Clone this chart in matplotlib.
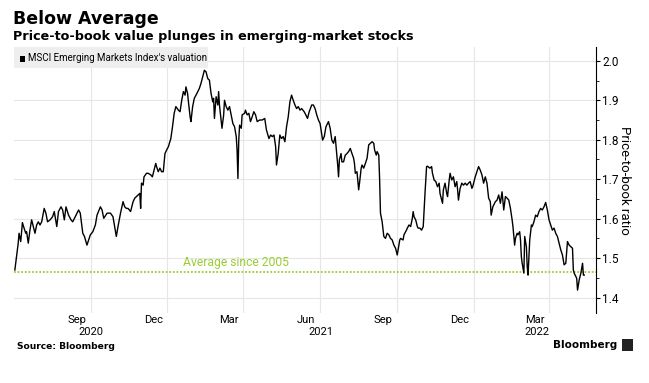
import numpy as np
import matplotlib
matplotlib.use("Agg")
import matplotlib.pyplot as plt
from matplotlib.patches import Rectangle
from matplotlib.ticker import MultipleLocator

# MSCI EM price-to-book (days counted from 2020-06-01)
start = np.datetime64("2020-06-01")
days = [
    1, 5, 6, 8, 10, 12, 14, 15, 17, 19, 21, 23, 25, 27, 29, 31, 33, 36, 38, 40,
    43, 46, 48, 49, 51, 53, 56, 58, 60, 62, 65, 68, 70, 73, 77, 79, 82, 84, 87, 89,
    91, 94, 97, 99, 103, 105, 107, 111, 115, 118, 120, 122, 124, 127, 130, 132, 134, 136, 139, 142,
    144, 146, 148, 150, 151, 152, 154, 155, 158, 160, 163, 165, 167, 169, 170, 172, 174, 176, 178, 180,
    182, 184, 187, 189, 191, 193, 196, 198, 200, 202, 204, 205, 207, 208, 210, 211, 213, 215, 218, 221,
    223, 225, 227, 229, 231, 233, 235, 237, 238, 239, 241, 243, 244, 245, 247, 248, 250, 251, 253, 255,
    257, 259, 261, 263, 265, 266, 267, 268, 269, 271, 272, 275, 276, 278, 280, 282, 284, 286, 288, 290,
    293, 296, 299, 301, 304, 306, 308, 310, 312, 313, 315, 317, 319, 321, 323, 325, 327, 329, 331, 333,
    335, 337, 339, 341, 343, 346, 348, 350, 352, 355, 357, 359, 361, 363, 365, 368, 370, 372, 375, 377,
    379, 381, 383, 385, 386, 387, 388, 390, 391, 393, 395, 397, 399, 401, 403, 405, 406, 407, 409, 411,
    412, 414, 415, 417, 419, 421, 423, 425, 427, 429, 430, 432, 433, 435, 436, 437, 439, 441, 443, 445,
    447, 449, 451, 453, 455, 457, 459, 460, 461, 464, 465, 468, 469, 471, 473, 475, 476, 477, 479, 481,
    482, 484, 486, 488, 490, 492, 493, 496, 498, 499, 501, 503, 505, 507, 508, 511, 512, 514, 516, 517,
    519, 520, 522, 524, 526, 528, 529, 530, 532, 534, 536, 538, 540, 542, 544, 546, 547, 549, 550, 552,
    554, 556, 558, 560, 562, 564, 566, 568, 569, 571, 573, 574, 576, 578, 580, 582, 584, 586, 588, 590,
    592, 594, 595, 597, 598, 600, 601, 603, 604, 605, 606, 608, 609, 611, 612, 613, 615, 617, 618, 620,
    622, 624, 626, 628, 630, 632, 634, 636, 638, 640, 642, 644, 646, 648, 650, 652, 654, 656, 658, 660,
    662, 664, 666, 667, 668, 671, 672, 674, 676, 678, 679, 680,
]
pb = [
    1.470, 1.538, 1.563, 1.542, 1.590, 1.576, 1.563, 1.567, 1.538, 1.571, 1.597, 1.580, 1.563, 1.584, 1.592, 1.584, 1.592, 1.626, 1.614, 1.592,
    1.597, 1.605, 1.618, 1.605, 1.580, 1.618, 1.630, 1.622, 1.597, 1.630, 1.609, 1.597, 1.592, 1.605, 1.622, 1.614, 1.563, 1.555, 1.533, 1.546,
    1.559, 1.567, 1.584, 1.609, 1.630, 1.622, 1.601, 1.614, 1.614, 1.605, 1.580, 1.555, 1.580, 1.614, 1.643, 1.630, 1.626, 1.626, 1.618, 1.643,
    1.652, 1.656, 1.660, 1.664, 1.626, 1.690, 1.685, 1.706, 1.715, 1.715, 1.711, 1.706, 1.723, 1.740, 1.732, 1.719, 1.728, 1.719, 1.719, 1.765,
    1.774, 1.782, 1.803, 1.833, 1.867, 1.884, 1.875, 1.871, 1.900, 1.922, 1.913, 1.934, 1.917, 1.896, 1.858, 1.846, 1.884, 1.905, 1.917, 1.930,
    1.943, 1.960, 1.976, 1.972, 1.955, 1.951, 1.917, 1.896, 1.905, 1.854, 1.909, 1.888, 1.922, 1.888, 1.850, 1.829, 1.863, 1.900, 1.884, 1.875,
    1.884, 1.863, 1.841, 1.833, 1.808, 1.774, 1.702, 1.799, 1.837, 1.829, 1.863, 1.867, 1.875, 1.863, 1.867, 1.846, 1.858, 1.871, 1.863, 1.846,
    1.850, 1.850, 1.854, 1.825, 1.803, 1.812, 1.808, 1.812, 1.782, 1.736, 1.765, 1.812, 1.803, 1.808, 1.795, 1.833, 1.858, 1.896, 1.913, 1.900,
    1.888, 1.879, 1.884, 1.875, 1.879, 1.871, 1.863, 1.854, 1.871, 1.888, 1.888, 1.879, 1.863, 1.850, 1.841, 1.799, 1.808, 1.833, 1.846, 1.829,
    1.799, 1.791, 1.808, 1.761, 1.736, 1.706, 1.749, 1.765, 1.744, 1.744, 1.761, 1.765, 1.770, 1.778, 1.765, 1.753, 1.740, 1.715, 1.719, 1.673,
    1.690, 1.728, 1.736, 1.728, 1.740, 1.753, 1.787, 1.791, 1.795, 1.791, 1.774, 1.761, 1.770, 1.761, 1.698, 1.614, 1.592, 1.555, 1.550, 1.563,
    1.559, 1.550, 1.546, 1.533, 1.525, 1.508, 1.533, 1.546, 1.550, 1.546, 1.559, 1.571, 1.576, 1.584, 1.580, 1.601, 1.618, 1.605, 1.597, 1.580,
    1.576, 1.576, 1.571, 1.580, 1.660, 1.732, 1.733, 1.728, 1.732, 1.715, 1.698, 1.694, 1.681, 1.690, 1.664, 1.639, 1.673, 1.690, 1.664, 1.656,
    1.698, 1.715, 1.698, 1.706, 1.681, 1.694, 1.673, 1.647, 1.677, 1.690, 1.685, 1.690, 1.685, 1.690, 1.694, 1.677, 1.681, 1.698, 1.706, 1.719,
    1.732, 1.723, 1.711, 1.690, 1.706, 1.690, 1.652, 1.643, 1.609, 1.630, 1.639, 1.643, 1.647, 1.660, 1.639, 1.668, 1.622, 1.656, 1.652, 1.647,
    1.626, 1.597, 1.580, 1.533, 1.550, 1.563, 1.559, 1.567, 1.546, 1.504, 1.487, 1.462, 1.555, 1.529, 1.478, 1.457, 1.546, 1.584, 1.580, 1.592,
    1.609, 1.605, 1.618, 1.626, 1.622, 1.630, 1.641, 1.622, 1.597, 1.584, 1.571, 1.576, 1.563, 1.555, 1.538, 1.521, 1.508, 1.483, 1.487, 1.542,
    1.533, 1.529, 1.525, 1.470, 1.462, 1.449, 1.419, 1.445, 1.462, 1.487, 1.457, 1.457,
]
avg_since_2005 = 1.465

grid_months = ["2020-09-01", "2020-12-01", "2021-03-01", "2021-06-01",
               "2021-09-01", "2021-12-01", "2022-03-01"]
month_names = ["Sep", "Dec", "Mar", "Jun", "Sep", "Dec", "Mar"]
year_labels = [("2020", "2020-09-01"), ("2021", "2021-06-02"), ("2022", "2022-02-15")]

NARROW = ["Roboto", "DejaVu Sans"]
GREEN = "#9acd32"
GRID = "#e6e6e6"

dates = start + np.array(days)

fig = plt.figure(figsize=(6.49, 3.83), dpi=100)
ax = fig.add_axes([0.0216, 0.1828, 0.8967, 0.6945])

ax.plot(dates, pb, color="black", lw=1.0, zorder=3)
ax.axhline(avg_since_2005, color=GREEN, lw=1.3, ls=(0, (1, 1)), zorder=2)
ax.text(np.datetime64("2021-02-21"), 1.481, "Average since 2005",
        color=GREEN, fontsize=8.7, family=NARROW, ha="center", va="baseline")

ax.set_xlim(start, np.datetime64("2022-04-26"))
ax.set_ylim(1.361, 2.035)

# grid
for m in grid_months:
    ax.axvline(np.datetime64(m), color=GRID, lw=0.8, zorder=0)
for v in np.arange(1.4, 2.01, 0.1):
    ax.axhline(v, color=GRID, lw=0.8, zorder=0)

# axes styling
for s in ["top", "left", "bottom"]:
    ax.spines[s].set_visible(False)
ax.spines["right"].set_linewidth(0.8)
ax.yaxis.tick_right()
ax.yaxis.set_major_locator(MultipleLocator(0.1))
ax.yaxis.set_minor_locator(MultipleLocator(0.05))
ax.yaxis.set_major_formatter(plt.FuncFormatter(lambda v, p: f"{v:.1f}"))
ax.tick_params(axis="y", which="major", length=3, width=0.8, pad=1.5, labelsize=8.5)
ax.tick_params(axis="y", which="minor", length=2, width=0.6)
for lab in ax.get_yticklabels():
    lab.set_family(NARROW)
ax.set_xticks([])
ax.yaxis.set_label_position("right")
ax.set_ylabel("Price-to-book ratio", rotation=270, fontsize=9.5, family=NARROW, labelpad=9)

# x labels
xt = ax.get_xaxis_transform()
for m, name in zip(grid_months, month_names):
    ax.text(np.datetime64(m) - np.timedelta64(17, "D"), -0.026, name, transform=xt,
            ha="center", va="center", fontsize=8, family=NARROW)
for name, d in year_labels:
    ax.text(np.datetime64(d), -0.071, name, transform=xt,
            ha="center", va="center", fontsize=8, family=NARROW)

# legend box
ax.add_patch(Rectangle((0, 0.921), 0.333, 0.079, transform=ax.transAxes,
                       facecolor="#eeeeee", edgecolor="none", zorder=1))
ax.add_patch(Rectangle((0.0095, 0.944), 0.0095, 0.024, transform=ax.transAxes,
                       facecolor="black", edgecolor="none", zorder=4))
ax.text(0.0235, 0.957, "MSCI Emerging Markets Index's valuation", transform=ax.transAxes,
        ha="left", va="center", fontsize=7.0, family=NARROW, zorder=4)

# titles and footer
fig.text(0.02, 0.975, "Below Average", fontsize=12.5, fontweight="bold", va="top", ha="left")
fig.text(0.02, 0.922, "Price-to-book value plunges in emerging-market stocks",
         fontsize=9.2, fontweight="bold", va="top", ha="left")
fig.text(0.026, 0.0966, "Source: Bloomberg", fontsize=6.6, fontweight="bold", va="center", ha="left")
fig.text(0.951, 0.099, "Bloomberg", fontsize=7.5, fontweight="bold", va="center", ha="right")
fig.add_artist(Rectangle((0.959, 0.084), 0.017, 0.03, transform=fig.transFigure,
                         facecolor="#222222", edgecolor="none"))

fig.savefig("out.png", dpi=100)
